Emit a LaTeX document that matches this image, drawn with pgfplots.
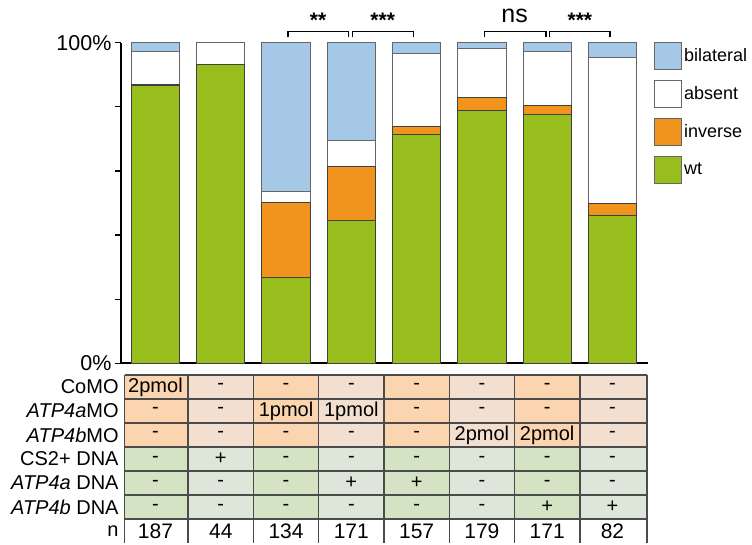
\documentclass[border=0pt]{standalone}
\usepackage{pgfplots}
\usepackage{pgfplotstable}
\pgfplotsset{compat=1.18}
\usepackage{fontspec}
\setmainfont{Liberation Sans}
\definecolor{cwt}{RGB}{152,190,30}
\definecolor{cinv}{RGB}{240,148,30}
\definecolor{cbil}{RGB}{164,200,230}
\definecolor{mo1}{RGB}{251,212,176}
\definecolor{mo2}{RGB}{242,223,208}
\definecolor{dna1}{RGB}{211,227,195}
\definecolor{dna2}{RGB}{221,230,216}
\definecolor{tline}{RGB}{75,75,75}
\pgfplotstableread{
x wt inv abs bil
1 86.5 0.5 10.2 2.8
2 93.2 0.0 6.8 0.0
3 26.9 23.1 3.7 46.3
4 44.4 17.0 8.2 30.4
5 71.4 2.4 22.9 3.3
6 78.8 4.0 15.5 1.7
7 77.7 2.6 17.1 2.6
8 46.0 3.8 45.6 4.6
}\data
\newcommand\tf{\fontsize{20}{22}\selectfont}
\newcommand\trow[9]{%
\node[font=\tf] at (C1|-#1) {#2};
\node[font=\tf] at (C2|-#1) {#3};
\node[font=\tf] at (C3|-#1) {#4};
\node[font=\tf] at (C4|-#1) {#5};
\node[font=\tf] at (C5|-#1) {#6};
\node[font=\tf] at (C6|-#1) {#7};
\node[font=\tf] at (C7|-#1) {#8};
\node[font=\tf] at (C8|-#1) {#9};}
\newcommand\rlab[2]{\node[font=\tf, anchor=east, inner sep=0pt, xshift=-6pt] at (X0|-#1) {#2};}
\begin{document}
\begin{tikzpicture}
\begin{axis}[
  scale only axis, width=527pt, height=320.6pt,
  xmin=0.472, xmax=8.544, ymin=0, ymax=100,
  ybar stacked, bar width=0.74,
  axis lines*=left,
  axis line style={line width=1.6pt, black},
  xtick=\empty,
  ytick={0,20,...,100}, yticklabels={0\%,,,,,100\%},
  tick align=outside, major tick length=6pt,
  tick style={line width=1.2pt, black},
  yticklabel style={font=\fontsize{21.5}{24}\selectfont},
  /pgf/number format/assume math mode=true,
  clip=false,
  reverse legend,
  legend cell align=left,
  legend style={at={(1,1)}, anchor=north west, xshift=6pt, yshift=1pt,
    draw=none, fill=none, inner sep=0pt, row sep=10pt,
    font=\fontsize{18}{20}\selectfont,
    nodes={inner sep=2pt}},
  mylegend/.style={legend image code/.code={\draw[##1, line width=1pt, draw=black!60] (0pt,-13.5pt) rectangle (27pt,13.5pt);}},
]
\addplot[fill=cwt, draw=black!75, line width=1pt, mylegend] table[x=x, y=wt] {\data};
\addplot[fill=cinv, draw=black!75, line width=1pt, mylegend] table[x=x, y=inv] {\data};
\addplot[fill=white, draw=black!60, line width=1pt, mylegend] table[x=x, y=abs] {\data};
\addplot[fill=cbil, draw=black!60, line width=1pt, mylegend] table[x=x, y=bil] {\data};
\legend{wt, inverse, absent, bilateral}
% reference coordinates for the condition table
\coordinate (X0) at (axis cs:0.53,0);
\coordinate (X1) at (axis cs:1.5,0);
\coordinate (X2) at (axis cs:2.5,0);
\coordinate (X3) at (axis cs:3.5,0);
\coordinate (X4) at (axis cs:4.5,0);
\coordinate (X5) at (axis cs:5.5,0);
\coordinate (X6) at (axis cs:6.5,0);
\coordinate (X7) at (axis cs:7.5,0);
\coordinate (X8) at (axis cs:8.53,0);
\coordinate (C1) at (axis cs:1,0);
\coordinate (C2) at (axis cs:2,0);
\coordinate (C3) at (axis cs:3,0);
\coordinate (C4) at (axis cs:4,0);
\coordinate (C5) at (axis cs:5,0);
\coordinate (C6) at (axis cs:6,0);
\coordinate (C7) at (axis cs:7,0);
\coordinate (C8) at (axis cs:8,0);
\coordinate (Y0) at (axis cs:1,-3.6);
\coordinate (Y1) at (axis cs:1,-11.1);
\coordinate (Y2) at (axis cs:1,-18.6);
\coordinate (Y3) at (axis cs:1,-26.1);
\coordinate (Y4) at (axis cs:1,-33.6);
\coordinate (Y5) at (axis cs:1,-41.1);
\coordinate (Y6) at (axis cs:1,-48.6);
\coordinate (Y7) at (axis cs:1,-56.2);
\coordinate (R1) at (axis cs:1,-7.35);
\coordinate (R2) at (axis cs:1,-14.85);
\coordinate (R3) at (axis cs:1,-22.35);
\coordinate (R4) at (axis cs:1,-29.85);
\coordinate (R5) at (axis cs:1,-37.35);
\coordinate (R6) at (axis cs:1,-44.85);
\coordinate (R7) at (axis cs:1,-52.4);
% significance brackets
\draw[line width=1.3pt, black]
  (axis cs:3.03,101.7) -- (axis cs:3.03,103.4) -- (axis cs:3.96,103.4) -- (axis cs:3.96,101.7)
  (axis cs:4.02,101.7) -- (axis cs:4.02,103.4) -- (axis cs:4.95,103.4) -- (axis cs:4.95,101.7)
  (axis cs:6.04,101.7) -- (axis cs:6.04,103.4) -- (axis cs:6.98,103.4) -- (axis cs:6.98,101.7)
  (axis cs:7.03,101.7) -- (axis cs:7.03,103.4) -- (axis cs:7.96,103.4) -- (axis cs:7.96,101.7);
\node[anchor=north, inner sep=0pt, font=\fontsize{21}{22}\selectfont\bfseries] at (axis cs:3.49,109.4) {**};
\node[anchor=north, inner sep=0pt, font=\fontsize{21}{22}\selectfont\bfseries] at (axis cs:4.48,109.4) {***};
\node[anchor=base, inner sep=0pt, font=\fontsize{25}{28}\selectfont] at (axis cs:6.5,106.2) {ns};
\node[anchor=north, inner sep=0pt, font=\fontsize{21}{22}\selectfont\bfseries] at (axis cs:7.5,109.4) {***};
\end{axis}
% condition table
\foreach \i/\j/\a/\b in {0/1/mo1/dna1, 1/2/mo2/dna2, 2/3/mo1/dna1, 3/4/mo2/dna2, 4/5/mo1/dna1, 5/6/mo2/dna2, 6/7/mo1/dna1, 7/8/mo2/dna2}{
  \fill[\a] (X\i|-Y0) rectangle (X\j|-Y3);
  \fill[\b] (X\i|-Y3) rectangle (X\j|-Y6);
}
\foreach \k in {0,...,6}{\draw[tline, line width=1.4pt] (X0|-Y\k) -- (X8|-Y\k);}
\foreach \k in {0,...,8}{\draw[tline, line width=1.4pt] (X\k|-Y0) -- (X\k|-Y7);}
\rlab{R1}{CoMO}
\rlab{R2}{\textit{ATP4a}MO}
\rlab{R3}{\textit{ATP4b}MO}
\rlab{R4}{CS2+ DNA}
\rlab{R5}{\textit{ATP4a} DNA}
\rlab{R6}{\textit{ATP4b} DNA}
\rlab{R7}{n}
\trow{R1}{2pmol}{-}{-}{-}{-}{-}{-}{-}
\trow{R2}{-}{-}{1pmol}{1pmol}{-}{-}{-}{-}
\trow{R3}{-}{-}{-}{-}{-}{2pmol}{2pmol}{-}
\trow{R4}{-}{+}{-}{-}{-}{-}{-}{-}
\trow{R5}{-}{-}{-}{+}{+}{-}{-}{-}
\trow{R6}{-}{-}{-}{-}{-}{-}{+}{+}
{\renewcommand\tf{\fontsize{21}{23}\selectfont}
\trow{R7}{187}{44}{134}{171}{157}{179}{171}{82}}
\useasboundingbox (-121pt,-178.7pt) rectangle (631pt,363.3pt);
\end{tikzpicture}
\end{document}
